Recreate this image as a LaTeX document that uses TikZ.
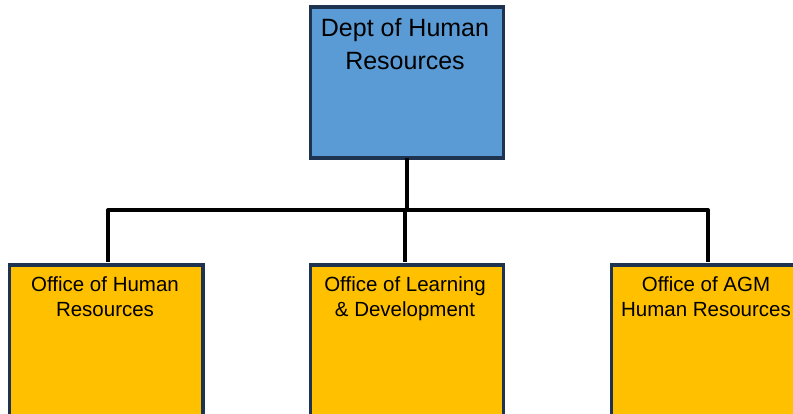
\documentclass[tikz,border=0pt]{standalone}
\usepackage{fontspec}
\setmainfont{Liberation Sans}
\definecolor{boxblue}{HTML}{5B9BD5}
\definecolor{boxgold}{HTML}{FFC000}
\definecolor{boxedge}{HTML}{1E3350}
\begin{document}
\begin{tikzpicture}[x=1pt,y=-1pt,
  unitbox/.style={draw=boxedge, line width=3.2pt, rectangle, inner sep=0pt, anchor=north},
  headbox/.style={unitbox, fill=boxblue, minimum width=193pt, minimum height=151pt},
  subbox/.style={unitbox, fill=boxgold, minimum width=193.5pt, minimum height=160pt},
  headtext/.style={anchor=base, align=center, inner sep=0pt, font=\fontsize{25}{33}\selectfont},
  subtext/.style={anchor=base, align=center, inner sep=0pt, font=\fontsize{20.5}{25.7}\selectfont},
  conn/.style={draw=black, line width=4pt, line join=round}]
\useasboundingbox (0,0) rectangle (793,414);
\clip (0,0) rectangle (793,414);
% boxes
\node[headbox] (top) at (407,5.5) {};
\node[subbox] (ohr) at (106.25,263.5) {};
\node[subbox] (old) at (407,263.5) {};
\node[subbox] (agm) at (708,263.5) {};
% texts (base anchor = baseline of the last line)
\node[headtext] (toptext) at (405,70) {Dept of Human\\Resources};
\node[subtext] (ohrtext) at (105,316.7) {Office of Human\\Resources};
\node[subtext] (oldtext) at (405,316.7) {Office of Learning\\ \& Development};
\node[subtext] (agmtext) at (706,316.7) {Office of AGM\\Human Resources};
% connectors
\coordinate (barL) at (108,210);
\coordinate (barR) at (708,210);
\draw[conn] ([yshift=1.6pt]top.south) -- (top.south |- barL);
\draw[conn] ([yshift=1.6pt]ohr.north -| barL) -- (barL) -- (barR) -- ([yshift=1.6pt]agm.north -| barR);
\draw[conn] ([xshift=-2pt,yshift=1.6pt]old.north) -- ([xshift=-2pt]old.north |- barL);
\end{tikzpicture}
\end{document}
